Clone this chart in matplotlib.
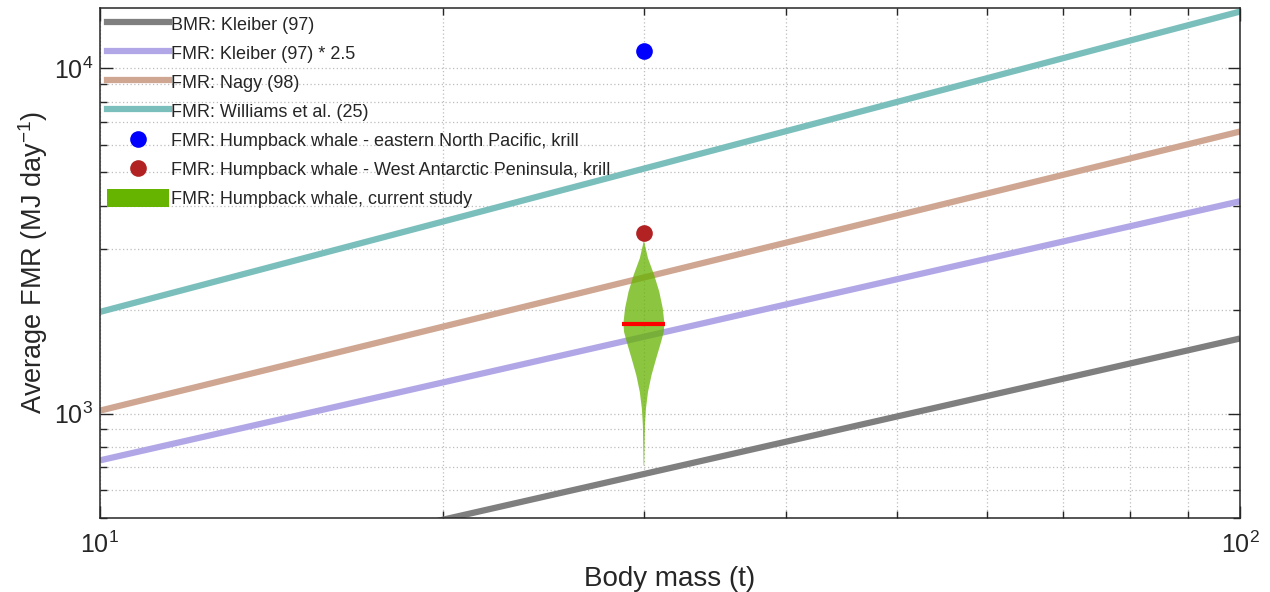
import numpy as np
import matplotlib
matplotlib.use("Agg")
import matplotlib.pyplot as plt
from matplotlib.patches import Patch
from matplotlib.lines import Line2D

plt.rcParams["font.family"] = ["Liberation Sans", "DejaVu Sans"]
plt.rcParams["mathtext.fontset"] = "custom"
plt.rcParams["mathtext.rm"] = "Liberation Sans"
plt.rcParams["mathtext.it"] = "Liberation Sans:italic"
plt.rcParams["mathtext.bf"] = "Liberation Sans:bold"

# Allometric relations evaluated at the ends of the body-mass range (t -> MJ/day)
mass_ends = [10, 100]
bmr_kleiber = [293, 1650]
fmr_kleiber_x25 = [732, 4120]
fmr_nagy = [1020, 6560]
fmr_williams = [1970, 14600]

# Humpback whale estimates
whale_mass = 30
fmr_enp_krill = 11200
fmr_wap_krill = 3330

# Current-study distribution: FMR levels and relative density of the violin outline
violin_fmr = [3184, 3079, 2817, 2520, 2254, 2017, 1825, 1725, 1614,
              1444, 1291, 1155, 1034, 925, 827, 708]
violin_density = [0.0, 0.05, 0.20, 0.50, 0.75, 0.92, 1.00, 0.97, 0.84,
                  0.60, 0.37, 0.20, 0.10, 0.05, 0.035, 0.015]
violin_median = 1822

labels = [
    "BMR: Kleiber (97)",
    "FMR: Kleiber (97) * 2.5",
    "FMR: Nagy (98)",
    "FMR: Williams et al. (25)",
    "FMR: Humpback whale - eastern North Pacific, krill",
    "FMR: Humpback whale - West Antarctic Peninsula, krill",
    "FMR: Humpback whale, current study",
]

c_gray = "#7f7f7f"
c_purple = "#b1a7e6"
c_brown = "#cfa691"
c_teal = "#7bbfbc"
c_blue = "#0000ff"
c_red = "#b22222"
c_green = "#66b300"
c_axis = "#262626"

fig = plt.figure(figsize=(12.7, 5.92), dpi=100)
ax = fig.add_axes([0.0787, 0.1258, 0.8977, 0.8615])
ax.set_xscale("log")
ax.set_yscale("log")
ax.set_xlim(10, 100)
ax.set_ylim(500, 15000)

lw = 4.5
for vals, col in [(bmr_kleiber, c_gray), (fmr_kleiber_x25, c_purple),
                  (fmr_nagy, c_brown), (fmr_williams, c_teal)]:
    ax.plot(mass_ends, vals, color=col, lw=lw, solid_capstyle="butt", zorder=2)

# Violin: half-width expressed in decades of the log x axis
half_width_dec = 20.5 / 1140
dens = np.asarray(violin_density)
xl = whale_mass * 10 ** (-half_width_dec * dens)
xr = whale_mass * 10 ** (half_width_dec * dens)
ax.fill_betweenx(violin_fmr, xl, xr, facecolor=c_green, edgecolor="none",
                 alpha=0.75, zorder=3)
ax.plot([whale_mass * 10 ** (-21.5 / 1140), whale_mass * 10 ** (21.5 / 1140)],
        [violin_median, violin_median], color="#ff0000", lw=3, zorder=4,
        solid_capstyle="butt")

ax.plot([whale_mass], [fmr_enp_krill], "o", color=c_blue, ms=12, mec="none", zorder=5)
ax.plot([whale_mass], [fmr_wap_krill], "o", color=c_red, ms=12, mec="none", zorder=5)

# Grid and ticks
grid_kw = dict(color="#bdbdbd", linestyle=(0, (1, 2)), linewidth=0.9)
ax.grid(True, which="major", **grid_kw)
ax.grid(True, which="minor", **grid_kw)
ax.set_axisbelow(True)
ax.tick_params(which="both", direction="in", top=True, right=True,
               colors=c_axis, labelsize=18, width=1.0)
ax.tick_params(which="major", length=9)
ax.tick_params(which="minor", length=5)
ax.tick_params(axis="x", which="major", pad=10)
ax.tick_params(axis="y", which="major", pad=5)
ax.yaxis.set_minor_formatter(matplotlib.ticker.NullFormatter())
ax.xaxis.set_minor_formatter(matplotlib.ticker.NullFormatter())
for s in ax.spines.values():
    s.set_color(c_axis)
    s.set_linewidth(1.1)

ax.set_xlabel("Body mass (t)", fontsize=20, color=c_axis, labelpad=6)
ax.set_ylabel("Average FMR (MJ day$^{-1}$)", fontsize=19.5, color=c_axis, labelpad=3)

handles = [
    Line2D([], [], color=c_gray, lw=lw),
    Line2D([], [], color=c_purple, lw=lw),
    Line2D([], [], color=c_brown, lw=lw),
    Line2D([], [], color=c_teal, lw=lw),
    Line2D([], [], ls="none", marker="o", color=c_blue, ms=12, mec="none"),
    Line2D([], [], ls="none", marker="o", color=c_red, ms=12, mec="none"),
    Patch(facecolor=c_green, edgecolor="none"),
]
leg = ax.legend(handles, labels, loc="upper left", bbox_to_anchor=(0.0, 1.0),
                frameon=False, fontsize=13, handlelength=3.45, handleheight=1.1,
                handletextpad=0.1, labelspacing=0.57, borderaxespad=0.2,
                borderpad=0.2)
for t in leg.get_texts():
    t.set_color(c_axis)

fig.savefig("out.png", dpi=100)
